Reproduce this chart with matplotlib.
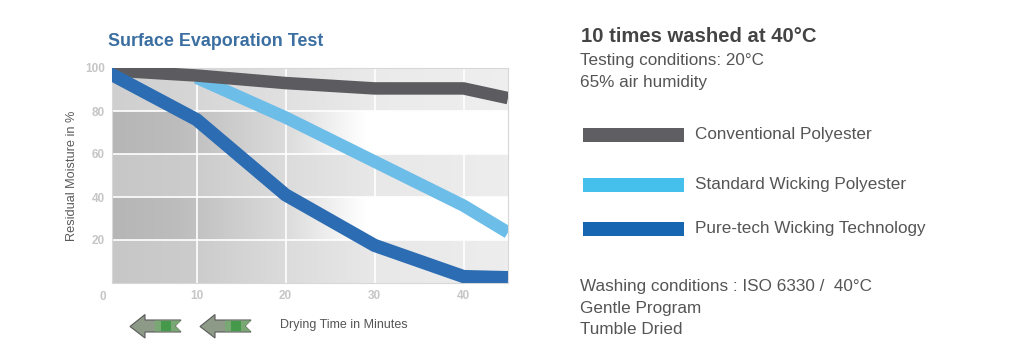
import numpy as np
import matplotlib
matplotlib.use("Agg")
import matplotlib.pyplot as plt
from matplotlib.patches import Polygon, Rectangle

# drying time in minutes
minutes = [0, 10, 20, 30, 40, 45]
conventional = [99, 96.5, 93, 90.5, 90.5, 86]
standard_minutes = [10, 20, 30, 40, 45]
standard = [95.5, 77, 56.5, 36, 23.5]
puretech = [98, 76, 41, 17.5, 3, 2.5]

series_names = ["Conventional Polyester", "Standard Wicking Polyester",
                "Pure-tech Wicking Technology"]
line_colors = ["#5c5c60", "#6dbde9", "#2b6cb3"]
legend_colors = ["#5f5f63", "#45c0ec", "#1766b1"]

x_ticks = [10, 20, 30, 40]
y_ticks = [20, 40, 60, 80, 100]

SANS = ["Liberation Sans", "DejaVu Sans"]

fig = plt.figure(figsize=(10.15, 3.6), dpi=100)
fig.patch.set_facecolor("white")
ax = fig.add_axes([112 / 1015, 1 - 283 / 360, 396 / 1015, 215 / 360])

# gradient banded background
xs = np.linspace(0, 45, 450)
light = np.interp(xs, [0, 8, 20, 29, 45], [0.71, 0.74, 0.86, 1.0, 1.0])
dark = np.interp(xs, [0, 10, 20, 30, 45], [0.78, 0.80, 0.86, 0.91, 0.93])
top = np.interp(xs, [0, 10, 20, 30, 45], [0.81, 0.84, 0.88, 0.92, 0.935])
rows = [dark, light, dark, light, top]  # bottom to top, 20 units each
img = np.repeat(np.array(rows), 40, axis=0)
ax.imshow(np.dstack([img, img, img]), extent=[0, 45, 0, 100], origin="lower",
          aspect="auto", zorder=0, interpolation="bilinear")

for xv in x_ticks:
    ax.axvline(xv, color="white", lw=1.2, zorder=1)
for yv in y_ticks[:-1]:
    ax.axhline(yv, color="white", lw=1.2, zorder=1)

ax.plot(standard_minutes, standard, color=line_colors[1], lw=9,
        solid_joinstyle="miter", solid_capstyle="butt", zorder=2)
ax.plot(minutes, conventional, color=line_colors[0], lw=9,
        solid_joinstyle="miter", solid_capstyle="butt", zorder=3)
ax.plot(minutes, puretech, color=line_colors[2], lw=9.5,
        solid_joinstyle="miter", solid_capstyle="butt", zorder=4)

ax.set_xlim(0.5, 45)
ax.set_ylim(0, 100)
ax.set_xticks(x_ticks)
ax.set_yticks(y_ticks)
ax.set_xticklabels([str(v) for v in x_ticks])
ax.set_yticklabels([str(v) for v in y_ticks])
ax.tick_params(length=0, colors="#c6c6c6", labelsize=8.5, pad=5)
for lab in ax.get_xticklabels() + ax.get_yticklabels():
    lab.set_fontweight("bold")
    lab.set_family(SANS)
for s in ax.spines.values():
    s.set_color("#d8d8d8")
    s.set_linewidth(0.8)
ax.text(-0.015, -0.035, "0", transform=ax.transAxes, ha="right", va="top",
        fontsize=8.5, color="#c6c6c6", fontweight="bold", family=SANS)

ax.set_ylabel("Residual Moisture in %", fontsize=9.2, color="#5a5a5a",
              family=SANS, labelpad=5)

fig.text(108 / 1015, 1 - 42 / 360, "Surface Evaporation Test", fontsize=12.9,
         fontweight="bold", color="#3b6fa1", family=SANS, va="center")
fig.text(280 / 1015, 1 - 325 / 360, "Drying Time in Minutes", fontsize=9.0,
         color="#555555", family=SANS, va="center")

# left-pointing arrows
def arrow(x0):
    tip, head, right, notch = x0, x0 + 15, x0 + 51, x0 + 45
    pts = [(tip, 326.5), (head, 314.5), (head, 320), (right, 320),
           (notch, 326), (right, 332), (head, 332), (head, 338)]
    P = [(px / 1015, 1 - py / 360) for px, py in pts]
    fig.patches.append(Polygon(P, closed=True, transform=fig.transFigure,
                               facecolor="#8c9a87", edgecolor="#5a5a5a",
                               lw=0.8, zorder=2))
    G = [((x0 + 25) / 1015, 1 - 320.6 / 360), (right / 1015, 1 - 320.6 / 360),
         (notch / 1015, 1 - 326 / 360), (right / 1015, 1 - 331.4 / 360),
         ((x0 + 25) / 1015, 1 - 331.4 / 360)]
    fig.patches.append(Polygon(G, closed=True, transform=fig.transFigure,
                               facecolor="#7aa874", edgecolor="none", zorder=3))
    G2 = [((x0 + 31) / 1015, 1 - 320.6 / 360), ((x0 + 41) / 1015, 1 - 320.6 / 360),
          ((x0 + 41) / 1015, 1 - 331.4 / 360), ((x0 + 31) / 1015, 1 - 331.4 / 360)]
    fig.patches.append(Polygon(G2, closed=True, transform=fig.transFigure,
                               facecolor="#44994a", edgecolor="none", zorder=4))

arrow(130)
arrow(200)

# right-hand text block
fig.text(581 / 1015, 1 - 37 / 360, "10 times washed at 40°C", fontsize=14.6,
         fontweight="bold", color="#444444", family=SANS, va="center")
fig.text(580 / 1015, 1 - 61 / 360, "Testing conditions: 20°C", fontsize=12.3,
         color="#555555", family=SANS, va="center")
fig.text(580 / 1015, 1 - 82 / 360, "65% air humidity", fontsize=12.3,
         color="#555555", family=SANS, va="center")

legend_y = [135, 185, 229]
for name, col, yc in zip(series_names, legend_colors, legend_y):
    fig.patches.append(Rectangle((583 / 1015, 1 - (yc + 7) / 360), 101 / 1015,
                                 14 / 360, transform=fig.transFigure,
                                 facecolor=col, edgecolor="none"))
    fig.text(695 / 1015, 1 - yc / 360, name, fontsize=12.3, color="#555555",
             family=SANS, va="center")

fig.text(580 / 1015, 1 - 287 / 360, "Washing conditions : ISO 6330 /  40°C",
         fontsize=12.3, color="#555555", family=SANS, va="center")
fig.text(580 / 1015, 1 - 308 / 360, "Gentle Program", fontsize=12.3,
         color="#555555", family=SANS, va="center")
fig.text(580 / 1015, 1 - 330 / 360, "Tumble Dried", fontsize=12.3,
         color="#555555", family=SANS, va="center")

fig.savefig("out.png", dpi=100, facecolor="white")
